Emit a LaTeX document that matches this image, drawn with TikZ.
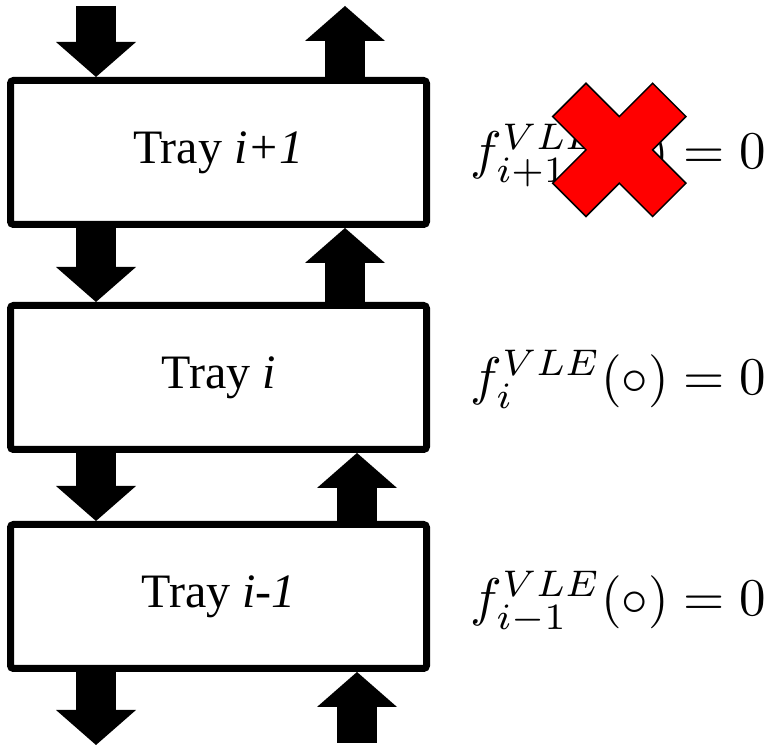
\documentclass[tikz,border=0pt]{standalone}
\usepackage{fontspec}
\usepackage{graphicx}
\newfontfamily\trayfont{Liberation Serif}
\usetikzlibrary{arrows.meta,positioning,calc}
\definecolor{crossred}{RGB}{255,0,0}

\begin{document}
\begin{tikzpicture}[x=0.5pt,y=-0.5pt,>=Latex,
  tray/.style={draw,line width=3.5pt,rounded corners=1.5pt,minimum width=208pt,
    minimum height=72pt,inner sep=0pt,font=\trayfont\fontsize{24}{28}\selectfont},
  flow/.style={line width=20pt,-{Triangle[length=17.5pt,width=40pt,line width=0pt]}},
  eqn/.style={anchor=base west,inner sep=0pt},
  xmark/.style={fill=crossred,draw=black,line width=0.75pt,line join=miter}]
  \useasboundingbox (0,0) rectangle (767,747);
  \node[tray] (t1) at (218.5,152.5) {Tray \textit{i+1}};
  \node[tray,below=37pt of t1] (t2) {Tray \textit{i}};
  \node[tray,below=34pt of t2] (t3) {Tray \textit{i-1}};
  \coordinate (in1) at (96,6);
  \coordinate (out1) at (345,6);
  \coordinate (out3) at (96,745);
  \coordinate (in3) at (357,743);
  \draw[flow] (in1) -- (in1 |- t1.north);
  \draw[flow] (t1.south -| in1) -- (t2.north -| in1);
  \draw[flow] (t2.south -| in1) -- (t3.north -| in1);
  \draw[flow] (t3.south -| in1) -- (out3);
  \draw[flow] (out1 |- t1.north) -- (out1);
  \draw[flow] (t2.north -| out1) -- (t1.south -| out1);
  \draw[flow] (t3.north -| in3) -- (t2.south -| in3);
  \draw[flow] (in3) -- (t3.south -| in3);
  \node[eqn] (e1) at ($(t1.east)+(40,16)$) {\scalebox{2.65}{$f_{i+1}^{VLE}(\circ)=0$}};
  \node[eqn] (e2) at ($(t2.east)+(40,17)$) {\scalebox{2.65}{$f_{i}^{VLE}(\circ)=0$}};
  \node[eqn] (e3) at ($(t3.east)+(40,19)$) {\scalebox{2.65}{$f_{i-1}^{VLE}(\circ)=0$}};
  \coordinate (xc) at (619.3,150);
  \draw[xmark] (xc) ++(-33.3,-66.7) -- ++(33.3,33.3) -- ++(33.3,-33.3) -- ++(33.3,33.3)
    -- ++(-33.3,33.3) -- ++(33.3,33.3) -- ++(-33.3,33.3) -- ++(-33.3,-33.3)
    -- ++(-33.3,33.3) -- ++(-33.3,-33.3) -- ++(33.3,-33.3) -- ++(-33.3,-33.3) -- cycle;
\end{tikzpicture}
\end{document}
